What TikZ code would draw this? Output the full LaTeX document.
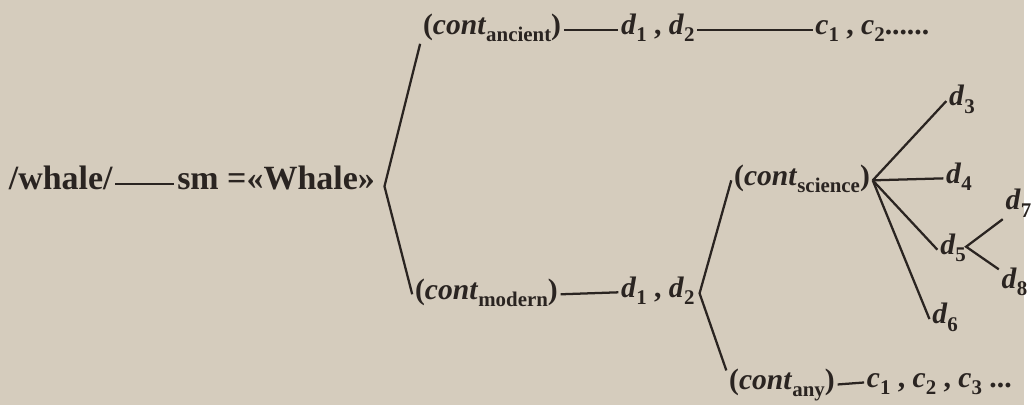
\documentclass[tikz,border=0pt]{standalone}
\usepackage{fontspec}
\setmainfont{Liberation Serif}
\definecolor{paper}{RGB}{213,204,189}
\definecolor{ink}{RGB}{42,36,33}
\newcommand{\lowtxt}[1]{\raisebox{-0.55ex}{\fontsize{12}{12}\selectfont #1}}
\newcommand{\dlab}[1]{\textit{d}\lowtxt{#1}}
\newcommand{\clab}[1]{\textit{c}\lowtxt{#1}}
\newcommand{\conttxt}[1]{(\textit{cont}\lowtxt{#1})}
\begin{document}
\begin{tikzpicture}[x=0.02cm,y=-0.02cm,color=ink,line width=1.3pt,
    every node/.style={anchor=west,inner sep=1pt,text height=2ex,text depth=0.8ex,
      font=\bfseries\fontsize{17}{20}\selectfont},
    big/.style={font=\bfseries\fontsize{19.5}{22}\selectfont}]
            \fill[paper] (0,0) rectangle (1033,409);
            \node[big] (whale) at (6,186) {/whale/};
            \node[big] (sm) at (176,186) {sm =«Whale»};
            \coordinate (v1) at (388,188);
            \node (anc) at (424,30) {\conttxt{ancient}};
            \node (ad) at (624,30) {\dlab{1} , \dlab{2}};
            \node (ac) at (820,30) {\clab{1} , \clab{2}......};
            \node (mod) at (416,297) {\conttxt{modern}};
            \node (md) at (624,295) {\dlab{1} , \dlab{2}};
            \coordinate (v2) at (706,296);
            \node (sci) at (738,182) {\conttxt{science}};
            \node (any) at (733,388) {\conttxt{any}};
            \node (anyc) at (872,386) {\clab{1} , \clab{2} , \clab{3} ...};
            \node (d3) at (955,102) {\dlab{3}};
            \node (d4) at (952,180) {\dlab{4}};
            \node (d5) at (946,252) {\dlab{5}};
            \node (d6) at (938,322) {\dlab{6}};
            \coordinate (v3) at (975,249);
            \node (d7) at (1012,207) {\dlab{7}};
            \node (d8) at (1008,286) {\dlab{8}};
            \draw (whale.east) -- (sm.west);
            \draw (anc.south west) -- (v1) -- (mod.west);
            \draw (anc.east) -- (ad.west);
            \draw (ad.east) -- (ac.west);
            \draw (mod.east) -- (md.west);
            \draw (sci.west) -- (v2) -- (any.north west);
            \draw (any.east) -- (anyc.west);
            \draw (sci.east) -- (d3.west);
            \draw (sci.east) -- (d4.west);
            \draw (sci.east) -- (d5.west);
            \draw (sci.east) -- (d6.west);
            \draw (d7.south west) -- (v3) -- (d8.north west);
        \end{tikzpicture}
\end{document}
